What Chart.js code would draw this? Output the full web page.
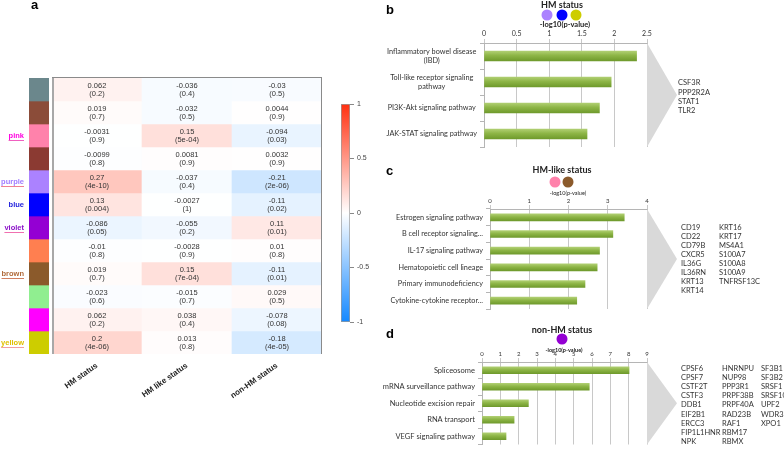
<!DOCTYPE html>
<html><head><meta charset="utf-8">
<script src="https://cdn.jsdelivr.net/npm/chart.js@4.4.1/dist/chart.umd.min.js"></script>
<style>
html,body{margin:0;padding:0;background:#fff;width:784px;height:452px;overflow:hidden}
canvas,svg{position:absolute}
svg{pointer-events:none}
</style></head>
<body>
<canvas id="mod" width="52" height="452" style="left:0;top:0"></canvas>
<canvas id="heat" width="335" height="452" style="left:0;top:0"></canvas>
<canvas id="cbar" width="60" height="250" style="left:330px;top:90px"></canvas>
<canvas id="cb" width="416" height="160" style="left:368px;top:0"></canvas>
<canvas id="cc" width="404" height="160" style="left:380px;top:160px"></canvas>
<canvas id="cd" width="404" height="134" style="left:380px;top:318px"></canvas>
<svg id="ov" width="784" height="452" style="left:0;top:0">
  <g font-family="Liberation Sans, Arial" font-weight="bold" font-size="13" fill="#000">
    <text x="31" y="9">a</text>
    <text x="386" y="14">b</text>
    <text x="386" y="175">c</text>
    <text x="386" y="338">d</text>
  </g>
  <g font-family="Lato" fill="#222" text-anchor="middle" dominant-baseline="central">
    <text x="562" y="4" font-size="9" font-weight="bold">HM status</text>
    <text x="565" y="24" font-size="7.5" font-weight="bold">-log10(p-value)</text>
    <text x="562" y="169" font-size="9" font-weight="bold">HM-like status</text>
    <text x="568" y="193" font-size="5.5">-log10(p-value)</text>
    <text x="562" y="329" font-size="9" font-weight="bold">non-HM status</text>
    <text x="564" y="350" font-size="5.5" font-weight="bold">-log10(p-value)</text>
  </g>
  <circle cx="547" cy="15" r="5.5" fill="#AB82FF"/>
  <circle cx="562" cy="15" r="5.5" fill="#0000FF"/>
  <circle cx="576" cy="15" r="5.5" fill="#CDCD00"/>
  <circle cx="555" cy="182" r="5.5" fill="#FF82AB"/>
  <circle cx="568" cy="182" r="5.5" fill="#8B5A2B"/>
  <circle cx="562" cy="339" r="5.5" fill="#9400D3"/>
</svg>
<script>
// ---------- Panel a data ----------
const statusLabels = ['HM status', 'HM like status', 'non-HM status'];
const moduleLabels = ['', '', 'pink', '', 'purple', 'blue', 'violet', '', 'brown', '', '', 'yellow'];
const moduleColors = ['#6B878C', '#8B4C39', '#FF82AB', '#8B3A32', '#AB82FF', '#0000FF',
                      '#9400D3', '#FF7F50', '#8B5A2B', '#90EE90', '#FF00FF', '#CDCD00'];
const labelColors = ['', '', '#FF00E0', '', '#A07CFF', '#2222DD', '#8A10C8', '', '#B06A3A', '', '', '#E0C000'];
const underlineColors = ['', '', '#F060C0', '', '#F08090', '', '#F070B0', '', '#D08060', '', '', '#F0A0A0'];
const corrHM     = [0.062, 0.019, -0.0031, -0.0099, 0.27, 0.13, -0.086, -0.01, 0.019, -0.023, 0.062, 0.2];
const pHM        = ['0.2', '0.7', '0.9', '0.8', '4e-10', '0.004', '0.05', '0.8', '0.7', '0.6', '0.2', '4e-06'];
const corrHMlike = [-0.036, -0.032, 0.15, 0.0081, -0.037, -0.0027, -0.055, -0.0028, 0.15, -0.015, 0.038, 0.013];
const pHMlike    = ['0.4', '0.5', '5e-04', '0.9', '0.4', '1', '0.2', '0.9', '7e-04', '0.7', '0.4', '0.8'];
const corrNonHM  = [-0.03, 0.0044, -0.094, 0.0032, -0.21, -0.11, 0.11, 0.01, -0.11, 0.029, -0.078, -0.18];
const pNonHM     = ['0.5', '0.9', '0.03', '0.9', '2e-06', '0.02', '0.01', '0.8', '0.01', '0.5', '0.08', '4e-05'];
const colorbarRange = [-1, 1];

// ---------- Panels b, c, d data ----------
const pathwaysHM = [['Inflammatory bowel disease', '(IBD)'], ['Toll-like receptor signaling', 'pathway'],
                    'PI3K-Akt signaling pathway', 'JAK-STAT signaling pathway'];
const valuesHM = [2.34, 1.95, 1.77, 1.58];
const genesHM = [['CSF3R', 'PPP2R2A', 'STAT1', 'TLR2']];

const pathwaysHMlike = ['Estrogen signaling pathway', 'B cell receptor signaling...', 'IL-17 signaling pathway',
                        'Hematopoietic cell lineage', 'Primary immunodeficiency', 'Cytokine-cytokine receptor...'];
const valuesHMlike = [3.42, 3.13, 2.79, 2.73, 2.42, 2.21];
const genesHMlike = [['CD19', 'CD22', 'CD79B', 'CXCR5', 'IL36G', 'IL36RN', 'KRT13', 'KRT14'],
                     ['KRT16', 'KRT17', 'MS4A1', 'S100A7', 'S100A8', 'S100A9', 'TNFRSF13C']];

const pathwaysNonHM = ['Spliceosome', 'mRNA surveillance pathway', 'Nucleotide excision repair',
                       'RNA transport', 'VEGF signaling pathway'];
const valuesNonHM = [8.02, 5.85, 2.53, 1.75, 1.31];
const genesNonHM = [['CPSF6', 'CPSF7', 'CSTF2T', 'CSTF3', 'DDB1', 'EIF2B1', 'ERCC3', 'FIP1L1HNR', 'NPK'],
                    ['HNRNPU', 'NUP98', 'PPP3R1', 'PRPF38B', 'PRPF40A', 'RAD23B', 'RAF1', 'RBM17', 'RBMX'],
                    ['SF3B1', 'SF3B2', 'SRSF1', 'SRSF10', 'UPF2', 'WDR33', 'XPO1']];

// ---------- helpers ----------
const RED = [255, 48, 16], BLUE = [20, 136, 255];
function corrColor(v) {
  const t = Math.min(1, Math.abs(v));
  const e = v >= 0 ? RED : BLUE;
  const c = e.map(x => Math.round(255 + (x - 255) * t));
  return `rgb(${c[0]},${c[1]},${c[2]})`;
}
const corrCols = [corrHM, corrHMlike, corrNonHM];
const pCols = [pHM, pHMlike, pNonHM];
const nRows = moduleColors.length;

// ---------- module colour bar ----------
const moduleLabelPlugin = {
  id: 'modLabels',
  afterDatasetsDraw(chart) {
    const ctx = chart.ctx;
    ctx.save();
    ctx.font = 'bold 7.5px "Liberation Sans", Arial';
    ctx.textAlign = 'right';
    ctx.textBaseline = 'middle';
    moduleLabels.forEach((lab, r) => {
      if (!lab) return;
      const el = chart.getDatasetMeta(r).data[0];
      const cy = (el.y + el.base) / 2;
      ctx.fillStyle = labelColors[r];
      ctx.fillText(lab, 24, cy);
      if (underlineColors[r]) {
        const w = ctx.measureText(lab).width;
        ctx.fillStyle = underlineColors[r];
        ctx.fillRect(24 - w, cy + 4.5, w, 1);
      }
    });
    ctx.restore();
  }
};
new Chart(document.getElementById('mod'), {
  type: 'bar',
  data: {
    labels: [''],
    datasets: moduleColors.map(c => ({ data: [1], backgroundColor: c, borderWidth: 0, barPercentage: 1, categoryPercentage: 1 }))
  },
  options: {
    responsive: false, animation: false, events: [],
    layout: { padding: { left: 29, right: 3, top: 78, bottom: 98 } },
    plugins: { legend: { display: false }, tooltip: { enabled: false } },
    scales: {
      x: { display: false, stacked: true },
      y: { display: false, stacked: true, min: 0, max: nRows, reverse: true }
    }
  },
  plugins: [moduleLabelPlugin]
});

// ---------- heatmap ----------
const cellTextPlugin = {
  id: 'cellText',
  afterDatasetsDraw(chart) {
    const ctx = chart.ctx;
    ctx.save();
    ctx.font = '7.5px "Liberation Sans", Arial';
    ctx.fillStyle = '#333';
    ctx.textAlign = 'center';
    ctx.textBaseline = 'middle';
    for (let r = 0; r < nRows; r++) {
      const meta = chart.getDatasetMeta(r);
      meta.data.forEach((el, c) => {
        const cy = (el.y + el.base) / 2;
        ctx.fillText(String(corrCols[c][r]), el.x, cy - 3.5);
        ctx.fillText('(' + pCols[c][r] + ')', el.x, cy + 4.5);
      });
    }
    const a = chart.chartArea;
    ctx.fillStyle = '#A8A8A8';
    ctx.fillRect(a.left, a.top, 2, a.bottom - a.top);
    ctx.fillStyle = '#8A8A8A';
    ctx.fillRect(a.left, a.top - 1, a.right - a.left, 1);
    ctx.fillRect(a.right - 1, a.top - 1, 1, a.bottom - a.top + 1);
    ctx.restore();
  }
};
new Chart(document.getElementById('heat'), {
  type: 'bar',
  data: {
    labels: statusLabels,
    datasets: moduleColors.map((_, r) => ({
      data: statusLabels.map(() => 1),
      backgroundColor: corrCols.map(col => corrColor(col[r])),
      borderWidth: 0, barPercentage: 1, categoryPercentage: 1
    }))
  },
  options: {
    responsive: false, animation: false, events: [],
    layout: { padding: { left: 52, right: 13, top: 78, bottom: 0 } },
    plugins: { legend: { display: false }, tooltip: { enabled: false } },
    scales: {
      x: {
        stacked: true,
        grid: { display: false, drawTicks: false },
        border: { display: false },
        ticks: { minRotation: 35, maxRotation: 35, padding: 7, color: '#222',
                 font: { family: '"Liberation Sans", Arial', size: 8, weight: 'bold' } },
        afterFit: s => { s.height = 98; }
      },
      y: { stacked: true, display: false, min: 0, max: nRows, reverse: true }
    }
  },
  plugins: [cellTextPlugin]
});

// ---------- colour bar ----------
new Chart(document.getElementById('cbar'), {
  type: 'bar',
  data: {
    labels: [''],
    datasets: [{
      data: [colorbarRange],
      backgroundColor: c => {
        const a = c.chart.chartArea;
        if (!a || !isFinite(a.top) || !isFinite(a.bottom)) return '#fff';
        const g = c.chart.ctx.createLinearGradient(0, a.bottom, 0, a.top);
        g.addColorStop(0, `rgb(${BLUE.join(',')})`);
        g.addColorStop(0.5, '#ffffff');
        g.addColorStop(1, `rgb(${RED.join(',')})`);
        return g;
      },
      borderColor: '#9A9A9A', borderWidth: 1, borderSkipped: false,
      barPercentage: 1, categoryPercentage: 1
    }]
  },
  options: {
    responsive: false, animation: false, events: [],
    layout: { padding: { left: 11, right: 10, top: 14, bottom: 18 } },
    plugins: { legend: { display: false }, tooltip: { enabled: false } },
    scales: {
      x: { display: false },
      y: {
        position: 'right', min: colorbarRange[0], max: colorbarRange[1],
        ticks: { stepSize: 0.5, padding: 3, color: '#444', callback: v => String(v),
                 font: { family: '"Liberation Sans", Arial', size: 7 } },
        grid: { drawOnChartArea: false, tickLength: 4, color: '#888' },
        border: { display: false },
        afterFit: s => { s.width = 30; }
      }
    }
  }
});

// ---------- pathway bar charts ----------
function sidePlugin(cfg) {
  return {
    id: 'side',
    beforeDatasetsDraw(chart) {
      const { ctx, chartArea: a } = chart;
      const mid = (a.top + a.bottom) / 2;
      ctx.save();
      ctx.fillStyle = '#D9D9D9';
      ctx.beginPath();
      ctx.moveTo(a.right, a.top);
      ctx.lineTo(a.right + 30, mid);
      ctx.lineTo(a.right, a.bottom);
      ctx.closePath();
      ctx.fill();
      ctx.fillStyle = '#333';
      ctx.font = '7.5px Lato';
      ctx.textBaseline = 'middle';
      ctx.textAlign = 'left';
      const rows = Math.max(...cfg.genes.map(g => g.length));
      cfg.genes.forEach((col, ci) => col.forEach((g, i) => {
        ctx.fillText(g, a.right + cfg.colX[ci], mid + cfg.dy + (i - (rows - 1) / 2) * cfg.lh);
      }));
      ctx.restore();
    }
  };
}
function barChart(id, labels, values, o) {
  const thick = o.thick;
  return new Chart(document.getElementById(id), {
    type: 'bar',
    data: {
      labels,
      datasets: [{
        data: values,
        barThickness: thick,
        borderWidth: 0,
        backgroundColor: c => {
          const ch = c.chart;
          const y = ch.scales && ch.scales.y;
          if (!y || c.dataIndex === undefined) return '#8CB444';
          const cy = y.getPixelForValue(c.dataIndex);
          if (!isFinite(cy)) return '#8CB444';
          const g = ch.ctx.createLinearGradient(0, cy - thick / 2, 0, cy + thick / 2);
          g.addColorStop(0, '#B0CF72');
          g.addColorStop(0.45, '#8DB546');
          g.addColorStop(1, '#6F9A2C');
          return g;
        }
      }]
    },
    options: {
      indexAxis: 'y', responsive: false, animation: false, events: [],
      layout: { padding: { left: 0, right: o.right, top: 0, bottom: o.bottom } },
      plugins: { legend: { display: false }, tooltip: { enabled: false } },
      scales: {
        x: {
          position: 'top', min: 0, max: o.max,
          ticks: { stepSize: o.step, padding: o.tickPad, color: '#333', callback: v => String(v),
                   font: { family: 'Lato', size: o.tickSize } },
          grid: { color: '#C8C8C8', tickLength: 4 },
          border: { color: '#B5B5B5' },
          afterFit: s => { s.height = o.top; }
        },
        y: {
          ticks: { crossAlign: o.cross, padding: 3, color: '#333', autoSkip: false,
                   font: { family: 'Lato', size: o.labelSize } },
          grid: { offset: true, drawOnChartArea: false, tickLength: 4, color: '#B5B5B5' },
          border: { color: '#B5B5B5' },
          afterFit: s => { s.width = o.left; }
        }
      }
    },
    plugins: [sidePlugin(o)]
  });
}
barChart('cb', pathwaysHM, valuesHM, {
  thick: 10, right: 137, bottom: 13, top: 43, left: 116, max: 2.5, step: 0.5, tickPad: 1, tickSize: 7,
  labelSize: 7.3, cross: 'center', genes: genesHM, colX: [31], dy: 2, lh: 9.3
});
barChart('cc', pathwaysHMlike, valuesHMlike, {
  thick: 7, right: 137, bottom: 11, top: 49, left: 110, max: 4, step: 1, tickPad: 0, tickSize: 6,
  labelSize: 7.3, cross: 'near', genes: genesHMlike, colX: [34, 72], dy: 0, lh: 9
});
barChart('cd', pathwaysNonHM, valuesNonHM, {
  thick: 7, right: 137, bottom: 2, top: 44, left: 102, max: 9, step: 1, tickPad: 0, tickSize: 6,
  labelSize: 7.5, cross: 'near', genes: genesNonHM, colX: [34, 75, 114], dy: 1.7, lh: 9.2
});
</script>
</body></html>
